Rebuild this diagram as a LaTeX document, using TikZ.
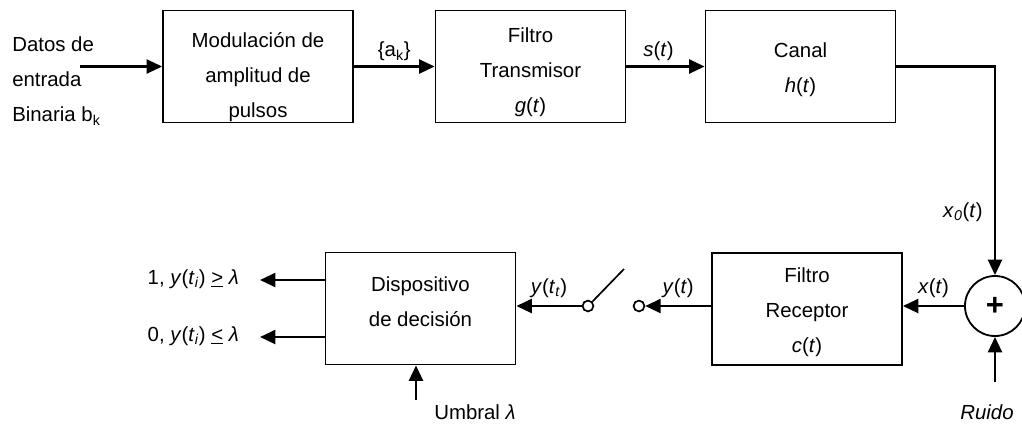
\documentclass[tikz,border=0pt]{standalone}
\usepackage{fontspec}
\setmainfont{Liberation Sans}
\usetikzlibrary{arrows.meta}

\tikzset{
  bloque/.style={draw, line width=1.3pt, minimum width=4.75cm, minimum height=2.8cm, inner sep=0pt},
  texto/.style={align=center, inner sep=0pt},
  flecha/.style={line width=1.6pt, -{Triangle[length=11pt,width=10pt]}},
  linea/.style={line width=1.2pt},
  contacto/.style={circle, draw, line width=1.2pt, fill=white, minimum size=0.27cm, inner sep=0pt},
}

\begin{document}
\begin{tikzpicture}[x=0.025cm, y=-0.025cm, font=\fontsize{14.5}{25}\selectfont]
  \useasboundingbox (0,0) rectangle (1022,424);

  % transmisor
  \node[anchor=west, align=left, inner sep=0pt] (entrada) at (12,81) {Datos de\\entrada\\Binaria b\textsubscript{k}};
  \coordinate (inicio) at (80,66.5);
  \node[bloque] (modulador) at (258,66.5) {};
  \node[texto] (modTexto) at (258,77) {Modulación de\\amplitud de\\pulsos};
  \node[bloque] (transmisor) at (530.5,66.5) {};
  \node[texto] (transTexto) at (530.5,72) {Filtro\\Transmisor\\\textit{g}(\textit{t})};
  \node[bloque] (canal) at (800.5,66.5) {};
  \node[texto] (canalTexto) at (800.5,70) {Canal\\\textit{h}(\textit{t})};

  \draw[flecha] (inicio) -- (modulador.west);
  \draw[flecha] (modulador) -- node[above, inner sep=3pt] (ak) {\{a\textsubscript{k}\}} (transmisor);
  \draw[flecha] (transmisor) -- node[above, inner sep=3pt, xshift=-5pt] (st) {\textit{s}(\textit{t})} (canal);

  % canal y ruido
  \node[circle, draw, line width=1.3pt, minimum size=1.5cm, inner sep=0pt, font=\fontsize{22}{22}\selectfont] (sumador) at (995,306) {\textbf{+}};
  \draw[flecha] (canal.east) -| node[pos=0.85, left, inner sep=8pt] (xo) {\textit{x}\textsubscript{\textit{0}}(\textit{t})} (sumador.north);
  \node (ruido) at (987,412) {\textit{Ruido}};
  \coordinate (ruidoini) at (995,382);
  \draw[flecha] (ruidoini) -- (sumador.south);

  % receptor
  \node[bloque] (receptor) at (807,309) {};
  \node[texto] (recTexto) at (807,312) {Filtro\\Receptor\\\textit{c}(\textit{t})};
  \draw[flecha] (sumador.west) -- node[above, inner sep=5pt] (xt) {\textit{x}(\textit{t})} (sumador.west -| receptor.east);

  % muestreador
  \node[contacto] (contactoB) at (639,306) {};
  \node[contacto] (contactoA) at (588,306) {};
  \coordinate (palanca) at (624,269);
  \draw[flecha] (receptor.west |- contactoB) -- node[above, inner sep=5pt] (yt) {\textit{y}(\textit{t})} (contactoB.east);
  \draw[linea] (contactoA.north east) -- (palanca);

  % decision
  \node[bloque] (decision) at (420.5,308.5) {};
  \node[texto] (decTexto) at (420.5,302) {Dispositivo\\de decisión};
  \draw[flecha] (contactoA.west) -- node[above, inner sep=5pt] (ytt) {\textit{y}(\textit{t}\textsubscript{\textit{t}})} (contactoA.west -| decision.east);

  \node[anchor=east] (salidaUno) at (244,279) {1, \textit{y}(\textit{t}\textsubscript{\textit{i}}) \underline{>} \textit{λ}};
  \node[anchor=east] (salidaCero) at (244,336) {0, \textit{y}(\textit{t}\textsubscript{\textit{i}}) \underline{<} \textit{λ}};
  \coordinate (puntaUno) at (260,280);
  \coordinate (puntaCero) at (260,337);
  \draw[flecha] (decision.west |- puntaUno) -- (puntaUno);
  \draw[flecha] (decision.west |- puntaCero) -- (puntaCero);

  \node (umbral) at (475,412) {Umbral \textit{λ}};
  \coordinate (umbralini) at (416,400);
  \draw[flecha] (umbralini) -- (umbralini |- decision.south);
\end{tikzpicture}
\end{document}
